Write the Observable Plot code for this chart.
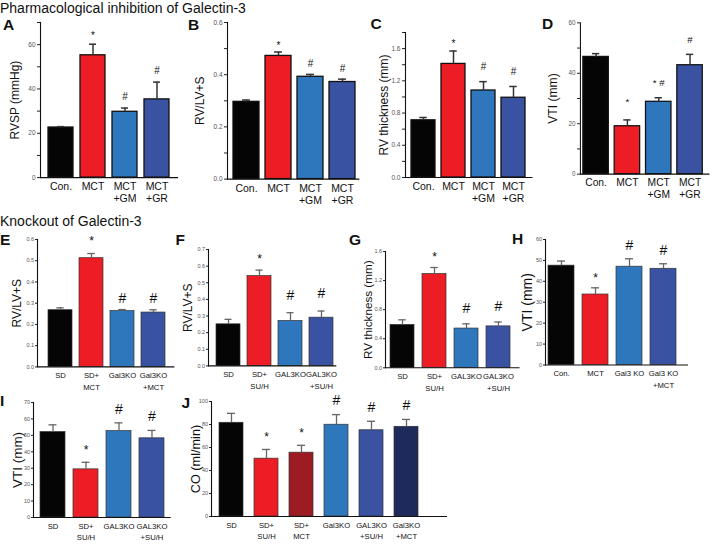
<!DOCTYPE html>
<html><head><meta charset="utf-8">
<script src="https://cdn.jsdelivr.net/npm/d3@7"></script>
<script src="https://cdn.jsdelivr.net/npm/@observablehq/plot@0.6"></script>
<style>
html,body{margin:0;padding:0;background:#fff;}
#fig{position:relative;width:714px;height:544px;overflow:hidden;font-family:"Liberation Sans",Arial,Helvetica,sans-serif;}
.t{position:absolute;white-space:nowrap;line-height:1;color:#111;}
.sec{font-size:14px;}
.let{font-size:15.5px;font-weight:bold;}
.pn{position:absolute;}
.pn svg{overflow:visible;}
</style></head><body><div id="fig"></div>
<script>
// ---------- DATA ----------
// Panel A – RVSP (mmHg)
const aGroups = ["Con.", "MCT", "MCT\n+GM", "MCT\n+GR"];
const aMeans = [22.6, 55.2, 29.7, 35.3];
const aSems = [0.4, 5.0, 1.7, 7.8];
const aMarks = ["", "*", "#", "#"];
const aTicks = [0, 20, 40, 60];
const aMinor = [10, 30, 50, 70];
// Panel B – RV/LV+S
const bGroups = ["Con.", "MCT", "MCT\n+GM", "MCT\n+GR"];
const bMeans = [0.296, 0.472, 0.392, 0.372];
const bSems = [0.007, 0.015, 0.009, 0.011];
const bMarks = ["", "*", "#", "#"];
const bTicks = [0, 0.2, 0.4, 0.6];
const bMinor = [0.1, 0.3, 0.5];
// Panel C – RV thickness (mm)
const cGroups = ["Con.", "MCT", "MCT\n+GM", "MCT\n+GR"];
const cMeans = [0.71, 1.41, 1.08, 0.99];
const cSems = [0.035, 0.16, 0.11, 0.14];
const cMarks = ["", "*", "#", "#"];
const cTicks = [0, 0.4, 0.8, 1.2, 1.6];
const cMinor = [0.2, 0.6, 1.0, 1.4, 1.8];
// Panel D – VTI (mm)
const dGroups = ["Con.", "MCT", "MCT\n+GM", "MCT\n+GR"];
const dMeans = [46.5, 19.0, 28.7, 43.2];
const dSems = [1.3, 2.5, 1.6, 4.3];
const dMarks = ["", "*", "* #", "#"];
const dTicks = [0, 20, 40, 60];
const dMinor = [10, 30, 50];
// Panel E – RV/LV+S (MCT)
const eGroups = ["SD", "SD+\nMCT", "Gal3KO", "Gal3KO\n+MCT"];
const eMeans = [0.267, 0.512, 0.263, 0.256];
const eSems = [0.011, 0.022, 0.007, 0.013];
const eMarks = ["", "*", "#", "#"];
const eTicks = [0, 0.1, 0.2, 0.3, 0.4, 0.5, 0.6];
// Panel F – RV/LV+S (SU/H)
const fGroups = ["SD", "SD+\nSU/H", "GAL3KO", "GAL3KO\n+SU/H"];
const fMeans = [0.25, 0.54, 0.27, 0.29];
const fSems = [0.03, 0.036, 0.05, 0.04];
const fMarks = ["", "*", "#", "#"];
const fTicks = [0, 0.1, 0.2, 0.3, 0.4, 0.5, 0.6, 0.7];
// Panel G – RV thickness (mm)
const gGroups = ["SD", "SD+\nSU/H", "GAL3KO", "GAL3KO\n+SU/H"];
const gMeans = [0.59, 1.29, 0.54, 0.57];
const gSems = [0.07, 0.09, 0.065, 0.06];
const gMarks = ["", "*", "#", "#"];
const gTicks = [0, 0.4, 0.8, 1.2, 1.6];
// Panel H – VTI (mm)
const hGroups = ["Con.", "MCT", "Gal3 KO", "Gal3 KO\n+MCT"];
const hMeans = [47.5, 33.7, 47.0, 46.0];
const hSems = [2.2, 3.2, 3.8, 2.4];
const hMarks = ["", "*", "#", "#"];
const hTicks = [0, 10, 20, 30, 40, 50, 60];
// Panel I – VTI (mm)
const iGroups = ["SD", "SD+\nSU/H", "GAL3KO", "GAL3KO\n+SU/H"];
const iMeans = [52.0, 29.3, 52.6, 48.2];
const iSems = [4.4, 4.3, 5.0, 4.8];
const iMarks = ["", "*", "#", "#"];
const iTicks = [0, 10, 20, 30, 40, 50, 60, 70];
// Panel J – CO (ml/min)
const jGroups = ["SD", "SD+\nSU/H", "SD+\nMCT", "Gal3KO", "GAL3KO\n+SU/H", "Gal3KO\n+MCT"];
const jMeans = [81.5, 50.3, 55.5, 79.8, 75.0, 78.0];
const jSems = [8.2, 8.0, 6.4, 8.8, 7.8, 6.4];
const jMarks = ["", "*", "*", "#", "#", "#"];
const jTicks = [0, 20, 40, 60, 80, 100];

// ---------- STYLE ----------
const FONT = '"Liberation Sans", Arial, Helvetica, sans-serif';
const cBlack = "#050505", cRed = "#ec1d25", cLblue = "#2f77bd", cDblue = "#3a52a2", cDred = "#9d1b22", cNavy = "#1d2a5b";
const four = [cBlack, cRed, cLblue, cDblue];
const six = [cBlack, cRed, cDred, cLblue, cDblue, cNavy];
const stTop = {barStroke: "#111", barW: 1.3, err: "#333", errW: 1.5, tickFont: 6.5, tickSize: 3, tickPad: 2, xFont: 10.5, lh: 1.15, pad: 4, hashFont: 10, starFont: 10};
const stLow = {barStroke: "#333", barW: 0.7, err: "#666", errW: 1.3, tickFont: 5.5, tickSize: 2, tickPad: 1.5, xFont: 7.7, lh: 1.5, pad: 3, hashFont: 14, starFont: 12};
const f1 = d3.format(".1f");
const fi = d => String(d);

const panels = [
  {groups: aGroups, means: aMeans, sems: aSems, marks: aMarks, ticks: aTicks, minor: aMinor, fmt: fi, ymax: 70, ylabel: "RVSP (mmHg)", colors: four, st: stTop,
   L: {axisX: 40, xEnd: 177, yTop: 22.2, yBase: 177.3, barStart: 46.7, barEnd: 171, barWidth: 26, labelOff: 25, labelFont: 12, dyHash: -11, dyStar: -8}},
  {groups: bGroups, means: bMeans, sems: bSems, marks: bMarks, ticks: bTicks, minor: bMinor, fmt: f1, ymax: 0.6, ylabel: "RV/LV+S", colors: four, st: stTop,
   L: {axisX: 226.7, xEnd: 358, yTop: 21.7, yBase: 178.3, barStart: 233, barEnd: 355, barWidth: 26, labelOff: 27, labelFont: 12, dyHash: -10.5, dyStar: -6.5}},
  {groups: cGroups, means: cMeans, sems: cSems, marks: cMarks, ticks: cTicks, minor: cMinor, fmt: f1, ymax: 1.8, ylabel: "RV thickness (mm)", colors: four, st: stTop,
   L: {axisX: 404.5, xEnd: 531, yTop: 31.7, yBase: 176.7, barStart: 409.7, barEnd: 526, barWidth: 24.5, labelOff: 21, labelFont: 12, dyHash: -15, dyStar: -7.5}},
  {groups: dGroups, means: dMeans, sems: dSems, marks: dMarks, ticks: dTicks, minor: dMinor, fmt: fi, ymax: 60, ylabel: "VTI (mm)", colors: four, st: stTop,
   L: {axisX: 580.7, xEnd: 712, yTop: 22.7, yBase: 177.3, barStart: 583, barEnd: 708, barWidth: 26.5, labelOff: 28, labelFont: 12.4, dyHash: -15, dyStar: -18}},
  {groups: eGroups, means: eMeans, sems: eSems, marks: eMarks, ticks: eTicks, minor: [], fmt: f1, ymax: 0.6, ylabel: "RV/LV+S", colors: four, st: stLow,
   L: {axisX: 36.7, xEnd: 173, yTop: 239.3, yBase: 366.7, barStart: 46.7, barEnd: 166, barWidth: 24.5, labelOff: 20, labelFont: 12, dyHash: -11, dyStar: -12}},
  {groups: fGroups, means: fMeans, sems: fSems, marks: fMarks, ticks: fTicks, minor: [], fmt: f1, ymax: 0.7, ylabel: "RV/LV+S", colors: four, st: stLow,
   L: {axisX: 207.7, xEnd: 335, yTop: 249.3, yBase: 365.7, barStart: 213.3, barEnd: 333.3, barWidth: 25, labelOff: 20, labelFont: 12, dyHash: -17.5, dyStar: -11}},
  {groups: gGroups, means: gMeans, sems: gSems, marks: gMarks, ticks: gTicks, minor: [], fmt: f1, ymax: 1.6, ylabel: "RV thickness (mm)", colors: four, st: stLow,
   L: {axisX: 384.5, xEnd: 518, yTop: 250.7, yBase: 367, barStart: 389.3, barEnd: 511, barWidth: 24.5, labelOff: 17.5, labelFont: 11.7, dyHash: -15, dyStar: -10}},
  {groups: hGroups, means: hMeans, sems: hSems, marks: hMarks, ticks: hTicks, minor: [], fmt: fi, ymax: 60, ylabel: "VTI (mm)", colors: four, st: stLow,
   L: {axisX: 545, xEnd: 687, yTop: 239, yBase: 364.5, barStart: 548, barEnd: 677, barWidth: 26, labelOff: 18, labelFont: 14, dyHash: -13.5, dyStar: -9.5}},
  {groups: iGroups, means: iMeans, sems: iSems, marks: iMarks, ticks: iTicks, minor: [], fmt: fi, ymax: 70, ylabel: "VTI (mm)", colors: four, st: stLow,
   L: {axisX: 33.3, xEnd: 170, yTop: 401.7, yBase: 516.7, barStart: 39.3, barEnd: 164.3, barWidth: 25, labelOff: 16, labelFont: 13.5, dyHash: -13.5, dyStar: -12.5}},
  {groups: jGroups, means: jMeans, sems: jSems, marks: jMarks, ticks: jTicks, minor: [], fmt: fi, ymax: 100, ylabel: "CO (ml/min)", colors: six, st: stLow,
   L: {axisX: 211, xEnd: 446, yTop: 401, yBase: 516, barStart: 219, barEnd: 418.3, barWidth: 24, labelOff: 16, labelFont: 12.7, dyHash: -14, dyStar: -12}}
];

const titles = [
  {text: "Pharmacological inhibition of Galectin-3", x: 0, y: 0.9, cls: "sec"},
  {text: "Knockout of Galectin-3", x: 0, y: 214.2, cls: "sec"},
  {text: "A", x: 3, y: 16.9, cls: "let"}, {text: "B", x: 188, y: 16.9, cls: "let"},
  {text: "C", x: 370.5, y: 15.9, cls: "let"}, {text: "D", x: 542, y: 15.9, cls: "let"},
  {text: "E", x: 0, y: 231.9, cls: "let"}, {text: "F", x: 175.5, y: 231.9, cls: "let"},
  {text: "G", x: 349, y: 231.9, cls: "let"}, {text: "H", x: 512, y: 230.9, cls: "let"},
  {text: "I", x: 0, y: 392.9, cls: "let"}, {text: "J", x: 181.5, y: 394.9, cls: "let"}
];

// ---------- DRAW ----------
const fig = document.getElementById("fig");
for (const t of titles) {
  const d = document.createElement("div");
  d.className = "t " + t.cls; d.textContent = t.text;
  d.style.left = t.x + "px"; d.style.top = t.y + "px";
  fig.appendChild(d);
}

function bandOpts(L, n) {
  const w = L.xEnd - L.axisX;
  const s = (L.barEnd - L.barStart - L.barWidth) / (n - 1);
  const pi = 1 - L.barWidth / s;
  const po = Math.max(0, (w / s - n + pi) / 2);
  const free = w - s * (n - pi);
  const align = free > 0 ? Math.min(1, Math.max(0, (L.barStart - L.axisX) / free)) : 0.5;
  return {paddingInner: pi, paddingOuter: po, align, bw: L.barWidth};
}

for (const p of panels) {
  const L = p.L, st = p.st;
  const mL = 50, mR = 6, mT = 30, mB = 32;
  const data = p.groups.map((g, i) => ({g, m: p.means[i], s: p.sems[i], mk: p.marks[i], c: p.colors[i]}));
  const bo = bandOpts(L, p.groups.length);
  const capInset = Math.max(0, (bo.bw - 8) / 2);
  const chart = Plot.plot({
    width: mL + (L.xEnd - L.axisX) + mR,
    height: mT + (L.yBase - L.yTop) + mB,
    marginLeft: mL, marginRight: mR, marginTop: mT, marginBottom: mB,
    style: {fontFamily: FONT, background: "transparent", overflow: "visible", color: "#111"},
    x: {type: "band", domain: p.groups, paddingInner: bo.paddingInner, paddingOuter: bo.paddingOuter, align: bo.align},
    y: {domain: [0, p.ymax]},
    color: {type: "identity"},
    marks: [
      Plot.barY(data, {x: "g", y: "m", fill: "c", stroke: st.barStroke, strokeWidth: st.barW}),
      Plot.ruleX(data, {x: "g", y1: "m", y2: d => d.m + d.s, stroke: st.err, strokeWidth: st.errW}),
      Plot.tickY(data, {x: "g", y: d => d.m + d.s, stroke: st.err, strokeWidth: st.errW, insetLeft: capInset, insetRight: capInset}),
      Plot.text(data.filter(d => d.mk && d.mk !== "*"), {x: "g", y: d => d.m + d.s, text: "mk", dy: L.dyHash, fontSize: st.hashFont, fill: "#111"}),
      Plot.text(data.filter(d => d.mk === "*"), {x: "g", y: d => d.m + d.s, text: "mk", dy: L.dyStar, fontSize: st.starFont, fill: "#111"}),
      Plot.axisY({ticks: p.ticks, tickFormat: p.fmt, tickSize: st.tickSize, tickPadding: st.tickPad, fontSize: st.tickFont, fill: "#555", stroke: "#222", label: null}),
      Plot.axisY({ticks: p.minor, tickFormat: () => "", tickSize: st.tickSize, stroke: "#222", label: null}),
      Plot.axisX({tickSize: 0, tickPadding: st.pad, fontSize: st.xFont, lineHeight: st.lh, fill: "#111", label: null}),
      Plot.frame({anchor: "left", stroke: "#111", strokeWidth: 1.1}),
      Plot.frame({anchor: "bottom", stroke: "#111", strokeWidth: 1.1}),
      Plot.text([p.ylabel], {text: d => d, frameAnchor: "left", textAnchor: "middle", lineAnchor: "middle", rotate: -90, dx: -L.labelOff, fontSize: L.labelFont, fill: "#111"})
    ]
  });
  const wrap = document.createElement("div");
  wrap.className = "pn";
  wrap.style.left = (L.axisX - mL) + "px";
  wrap.style.top = (L.yTop - mT) + "px";
  wrap.appendChild(chart);
  fig.appendChild(wrap);
}
</script></body></html>
